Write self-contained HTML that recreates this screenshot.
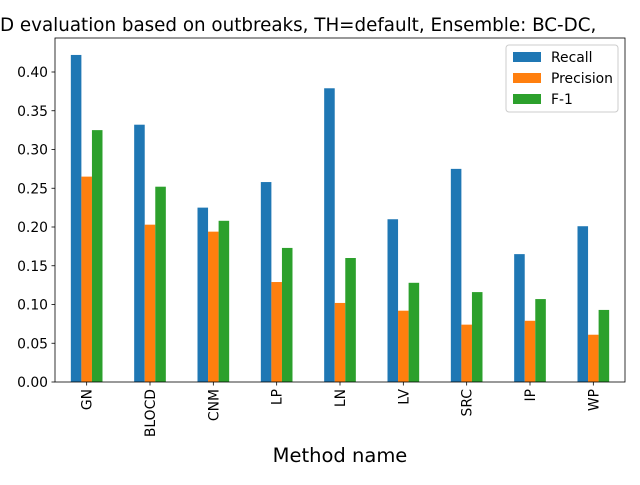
<!DOCTYPE html>
<html><head><meta charset="utf-8"><style>
html,body{margin:0;padding:0;background:#fff;}
svg text{font-family:"DejaVu Sans","Liberation Sans",sans-serif;}
</style></head><body>
<svg id="chart" width="640" height="480" xmlns="http://www.w3.org/2000/svg">
<rect width="640" height="480" fill="#fff"/>
<text x="0" y="31" font-size="18.3" fill="#000">D evaluation based on outbreaks, TH=default, Ensemble: BC-DC,</text>
<g id="bars"></g>
<g id="axes"></g>
<text x="340" y="462" font-size="19.5" text-anchor="middle">Method name</text>
<g>
<rect x="506" y="45" width="112" height="67" rx="3" fill="#fff" fill-opacity="0.8" stroke="#ccc"/>
<rect x="513" y="52" width="28" height="10" fill="#1f77b4"/>
<text x="551" y="62" font-size="13.9">Recall</text>
<rect x="513" y="73" width="28" height="10" fill="#ff7f0e"/>
<text x="551" y="83" font-size="13.9">Precision</text>
<rect x="513" y="94" width="28" height="10" fill="#2ca02c"/>
<text x="551" y="104" font-size="13.9">F-1</text>
</g>
</svg>
<script>
const categories = ["GN","BLOCD","CNM","LP","LN","LV","SRC","IP","WP"];
const recall = [0.422,0.332,0.225,0.258,0.379,0.210,0.275,0.165,0.201];
const precision = [0.265,0.203,0.194,0.129,0.102,0.092,0.074,0.079,0.061];
const f1 = [0.325,0.252,0.208,0.173,0.160,0.128,0.116,0.107,0.093];
const yTicks = [0,0.05,0.10,0.15,0.20,0.25,0.30,0.35,0.40];

const NS="http://www.w3.org/2000/svg";
const L=55,R=625,T=38,B=382;
const yMax=(B-T)/775;
function y(v){return B-(v/yMax)*(B-T);}
const step=(R-L)/categories.length;
function xc(i){return L+step*(i+0.5);}
const bw=step*0.5/3;
function mk(tag,attrs,parent){const e=document.createElementNS(NS,tag);for(const k in attrs)e.setAttribute(k,attrs[k]);parent.appendChild(e);return e;}
const bars=document.getElementById('bars'), axes=document.getElementById('axes');
const series=[[recall,"#1f77b4","recall"],[precision,"#ff7f0e","precision"],[f1,"#2ca02c","f1"]];
categories.forEach((c,i)=>{
  series.forEach((s,j)=>{
    const v=s[0][i];
    const r=mk('rect',{x:xc(i)-1.5*bw+j*bw,y:y(v),width:bw,height:B-y(v),fill:s[1]},bars);
    
    
  });
  mk('line',{x1:xc(i),x2:xc(i),y1:B,y2:B+3.5,stroke:'#000','stroke-width':0.8},axes);
  const t=mk('text',{x:0,y:0,'font-size':13.9,'text-anchor':'end',transform:`translate(${xc(i)+5},${B+7}) rotate(-90)`},axes);
  t.textContent=c;
  
  
});
yTicks.forEach(v=>{
  mk('line',{x1:L-3.5,x2:L,y1:y(v),y2:y(v),stroke:'#000','stroke-width':0.8},axes);
  const t=mk('text',{x:L-7,y:y(v)+5,'font-size':13.9,'text-anchor':'end'},axes);
  t.textContent=v.toFixed(2);
  
  
});
const fr=mk('rect',{x:L,y:T,width:R-L,height:B-T,fill:'none',stroke:'#000','stroke-width':0.8},axes);


</script>
</body></html>
